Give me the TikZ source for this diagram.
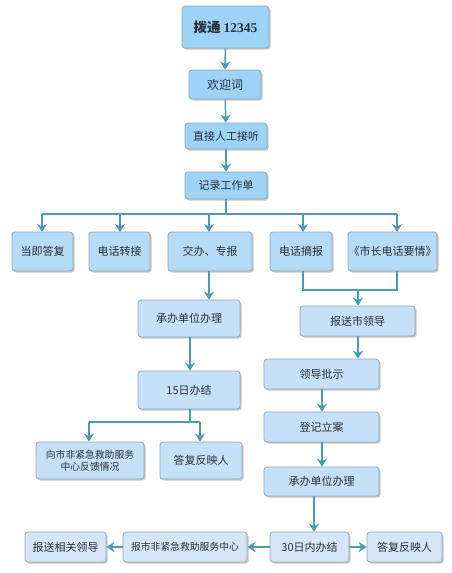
\documentclass[tikz,border=0pt]{standalone}
\usepackage{fontspec}
\setmainfont{Noto Sans CJK SC}
\newfontfamily\digitfont{Liberation Serif}
\usetikzlibrary{arrows.meta,shadows}
\definecolor{boxline}{HTML}{8FA6BD}
\definecolor{conn}{HTML}{4B9BB2}
\definecolor{fillA}{HTML}{9DD3F6}
\definecolor{fillB}{HTML}{B6DBF6}
\definecolor{fillC}{HTML}{C6E0F7}
\definecolor{fillD}{HTML}{D6E6F8}
\definecolor{txt}{HTML}{2A3038}
\begin{document}
\begin{tikzpicture}[x=1pt,y=-1pt,
  box/.style={draw=boxline,line width=0.7pt,rounded corners=3pt,fill=fillC,
    text=txt,font=\fontsize{11}{13}\selectfont,align=center,inner sep=0pt,
    drop shadow={shadow xshift=1.6pt,shadow yshift=-1.6pt,fill=black!35,opacity=0.6}},
  boxA/.style={box,fill=fillA},
  boxB/.style={box,fill=fillB},
  boxD/.style={box,fill=fillD},
  conn/.style={draw=conn,line width=1.5pt},
  arr/.style={conn,-{Stealth[length=8pt,width=10pt,inset=2.5pt]}}
]
\useasboundingbox[fill=white] (0,0) rectangle (452,573);
% top column
\node[boxA,minimum width=87pt,minimum height=42pt,font=\fontsize{13.5}{15}\selectfont\bfseries] (n1) at (225.5,27) {拨通 {\digitfont\bfseries 12345}};
\node[boxA,minimum width=72pt,minimum height=29pt,font=\fontsize{12}{13}\selectfont] (n2) at (225,84.5) {欢迎词};
\node[boxA,minimum width=82pt,minimum height=26pt] (n3) at (226,136) {直接人工接听};
\node[boxA,minimum width=82pt,minimum height=27pt] (n4) at (226,185.5) {记录工作单};
% row 2
\node[boxB,minimum width=61pt,minimum height=39pt] (r1) at (42.5,251.5) {当即答复};
\node[boxB,minimum width=61pt,minimum height=39pt] (r2) at (119.5,251.5) {电话转接};
\node[boxB,minimum width=84pt,minimum height=39pt] (r3) at (210,251.5) {交办、专报};
\node[boxB,minimum width=62pt,minimum height=39pt] (r4) at (301,251.5) {电话摘报};
\node[boxB,minimum width=89pt,minimum height=39pt] (r5) at (392.5,251.5) {《市长电话要情》};
% left branch
\node[box,minimum width=102pt,minimum height=37pt] (a1) at (189,318.5) {承办单位办理};
\node[box,minimum width=102pt,minimum height=38pt] (a2) at (189,390) {15日办结};
\node[box,minimum width=108pt,minimum height=37pt,font=\fontsize{9.8}{12}\selectfont] (a3) at (90,460.5) {向市非紧急救助服务\\中心反馈情况};
\node[box,minimum width=82pt,minimum height=37pt] (a4) at (201,460.5) {答复反映人};
% right branch
\node[box,minimum width=115pt,minimum height=30pt] (b1) at (357.5,321) {报送市领导};
\node[box,minimum width=115pt,minimum height=30pt] (b2) at (321.5,374) {领导批示};
\node[box,minimum width=115pt,minimum height=30pt] (b3) at (321.5,427) {登记立案};
\node[box,minimum width=115pt,minimum height=29pt] (b4) at (321.5,481.5) {承办单位办理};
% bottom row
\node[boxD,minimum width=79pt,minimum height=30pt] (b5) at (309.5,547) {30日内办结};
\node[boxD,minimum width=75pt,minimum height=30pt] (b6) at (404.5,547) {答复反映人};
\node[boxD,minimum width=124pt,minimum height=30pt,font=\fontsize{9.8}{12}\selectfont] (b7) at (185,547) {报市非紧急救助服务中心};
\node[boxD,minimum width=81pt,minimum height=30pt] (b8) at (65.5,547) {报送相关领导};
% connectors top
\draw[arr] (n1) -- (n2);
\draw[arr] (n2) -- (n3);
\draw[arr] (n3) -- (n4);
\coordinate (bus) at (226,214);
\draw[conn] (n4.south) -- (bus);
\draw[conn] (42,214) -- (397,214);
\draw[arr] (42,214) -- (42,232);
\draw[arr] (120,214) -- (120,232);
\draw[arr] (209,214) -- (209,232);
\draw[arr] (303,214) -- (303,232);
\draw[arr] (397,214) -- (397,232);
% left branch
\draw[arr] (r3.south -| 209,0) -- (a1.north -| 209,0);
\draw[arr] (a1.south -| 190,0) -- (a2.north -| 190,0);
\coordinate (lj) at (190,422);
\draw[conn] (a2.south -| lj) -- (lj);
\draw[conn] (89,422) -- (200,422);
\draw[arr] (89,422) -- (a3.north -| 89,0);
\draw[arr] (200,422) -- (a4.north -| 200,0);
% right branch
\coordinate (rj) at (358,290);
\draw[conn] (r4.south -| 303,0) -- (303,290) -- (397,290) -- (r5.south -| 397,0);
\draw[arr] (rj) -- (b1.north -| rj);
\draw[arr] (b1.south -| rj) -- (b2.north -| rj);
\draw[arr] (b2.south -| 322,0) -- (b3.north -| 322,0);
\draw[arr] (b3.south -| 322,0) -- (b4.north -| 322,0);
\draw[arr] (b4.south -| 314,0) -- (b5.north -| 314,0);
\draw[arr] (b5) -- (b6);
\draw[arr] (b5) -- (b7);
\draw[arr] (b7) -- (b8);
\end{tikzpicture}
\end{document}
